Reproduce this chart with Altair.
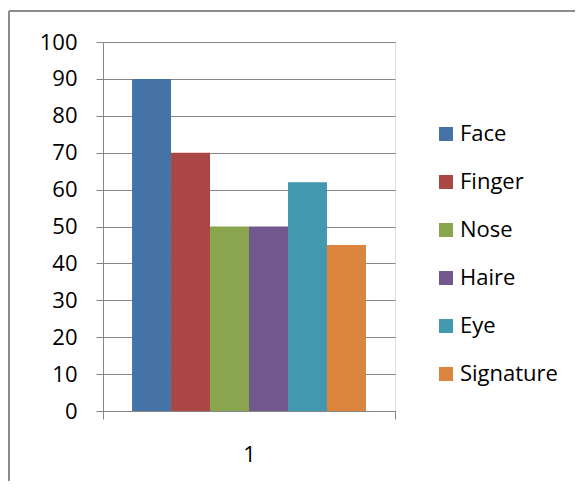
import altair as alt
import pandas as pd

groups = ["1"] * 6
series = ["Face", "Finger", "Nose", "Haire", "Eye", "Signature"]
values = [90, 70, 50, 50, 62, 45]
colors = ["#4572A7", "#AA4643", "#89A54E", "#71588F", "#4198AF", "#DB843D"]
y_ticks = list(range(0, 101, 10))

df = pd.DataFrame({"group": groups, "series": series, "value": values})

FONT = "Open Sans"
GRAY = "#868686"

bars = alt.Chart(df).mark_bar(opacity=1).encode(
    x=alt.X("group:N", title=None,
            scale=alt.Scale(paddingInner=0, paddingOuter=0),
            axis=alt.Axis(labelAngle=0, tickBand="extent", tickSize=8,
                          tickColor=GRAY, domainColor=GRAY, labelFontSize=22,
                          labelFont=FONT, labelColor="#000000", labelPadding=35,
                          labelBaseline="middle", grid=False)),
    xOffset=alt.XOffset("series:N", sort=series,
                        scale=alt.Scale(paddingOuter=0.745, paddingInner=0)),
    y=alt.Y("value:Q", title=None,
            scale=alt.Scale(domain=[0, 100], nice=False),
            axis=alt.Axis(values=y_ticks, grid=True, gridColor=GRAY, gridOpacity=1,
                          domainColor=GRAY, tickColor=GRAY, tickSize=7,
                          labelFontSize=22, labelFont=FONT, labelColor="#000000",
                          labelPadding=19)),
    color=alt.Color("series:N", sort=series,
                    scale=alt.Scale(domain=series, range=colors),
                    legend=alt.Legend(title=None, orient="none", legendX=332, legendY=81,
                                      symbolType="square", symbolSize=196,
                                      symbolStrokeWidth=0, labelFontSize=22,
                                      labelFont=FONT, labelColor="#000000",
                                      labelOffset=3, rowPadding=26, padding=0)),
)

border_left = alt.Chart(df).mark_rule(color="#8c8c8c", strokeWidth=2).encode(
    x=alt.value(-94), y=alt.value(-31), y2=alt.value(500))
border_top = alt.Chart(df).mark_rule(color="#8c8c8c", strokeWidth=2).encode(
    x=alt.value(-94), x2=alt.value(600), y=alt.value(-31))

chart = alt.layer(border_left, border_top, bars).properties(
    width=292, height=369,
    autosize=alt.AutoSizeParams(type="none"),
    padding={"left": 95, "top": 34, "right": 180, "bottom": 70},
).configure_view(stroke=None).configure(background="white")

chart.save("out.html", embed_options={"renderer": "svg", "actions": False})
